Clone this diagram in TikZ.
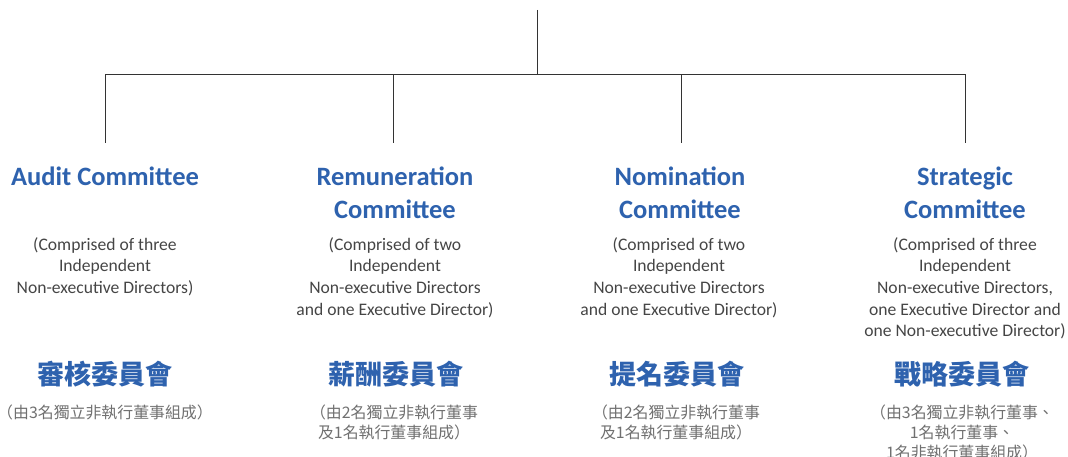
\documentclass[tikz,border=0pt]{standalone}
\usepackage{fontspec}
\setmainfont{Carlito}
\newfontfamily\cjk{Noto Sans CJK TC}
\definecolor{cblue}{HTML}{2E62AE}
\definecolor{ctext}{HTML}{454545}
\definecolor{cgray}{HTML}{707070}
\definecolor{cline}{HTML}{333333}
\tikzset{
  conn/.style={draw=cline, line width=1pt},
  titlebox/.style={anchor=north, inner sep=0pt, align=center, text=cblue,
    font=\bfseries\fontsize{26.5}{32.5}\selectfont},
  bodybox/.style={anchor=north, inner sep=0pt, align=center, text=ctext,
    font=\fontsize{17.6}{21.7}\selectfont},
  cntitle/.style={anchor=center, inner sep=0pt, text=cblue,
    font=\cjk\bfseries\fontsize{27}{32}\selectfont},
  cnbody/.style={anchor=north, inner sep=0pt, align=center, text=cgray,
    font=\cjk\fontsize{15.9}{20}\selectfont},
}
\begin{document}
\begin{tikzpicture}[x=1pt, y=-1pt]
\useasboundingbox (0,0) rectangle (1068,457);
% connectors
\coordinate (top) at (537,10);
\coordinate (bus) at (537,75);
\coordinate (ea) at (105,143);
\coordinate (eb) at (393,143);
\coordinate (ec) at (681,143);
\coordinate (ed) at (965,143);
\draw[conn] (top) -- (bus);
\draw[conn] (ea) -- (ea |- bus) -- (ed |- bus) -- (ed);
\draw[conn] (eb) -- (eb |- bus);
\draw[conn] (ec) -- (ec |- bus);
% titles
\node[titlebox] (ta) at (105,167) {Audit Committee};
\node[titlebox] (tb) at (395,167) {Remuneration\\Committee};
\node[titlebox] (tc) at (680,167) {Nomination\\Committee};
\node[titlebox] (td) at (965,167) {Strategic\\Committee};
% bodies
\node[bodybox] (ba) at (105,237) {(Comprised of three\\Independent\\Non-executive Directors)};
\node[bodybox] (bb) at (395,237) {(Comprised of two\\Independent\\Non-executive Directors\\and one Executive Director)};
\node[bodybox] (bc) at (679,237) {(Comprised of two\\Independent\\Non-executive Directors\\and one Executive Director)};
\node[bodybox] (bd) at (965,237) {(Comprised of three\\Independent\\Non-executive Directors,\\one Executive Director and\\one Non-executive Director)};
% chinese titles
\node[cntitle] (ca) at (105,374) {審核委員會};
\node[cntitle] (cb) at (396,374) {薪酬委員會};
\node[cntitle] (cc) at (677,374) {提名委員會};
\node[cntitle] (cd) at (962,374) {戰略委員會};
% chinese bodies
\node[cnbody] (da) at (105,405) {（由3名獨立非執行董事組成）};
\node[cnbody] (db) at (394,405) {（由2名獨立非執行董事\\及1名執行董事組成）};
\node[cnbody] (dc) at (676,405) {（由2名獨立非執行董事\\及1名執行董事組成）};
\node[cnbody] (dd) at (962,405) {（由3名獨立非執行董事、\\1名執行董事、\\1名非執行董事組成）};
\end{tikzpicture}
\end{document}
